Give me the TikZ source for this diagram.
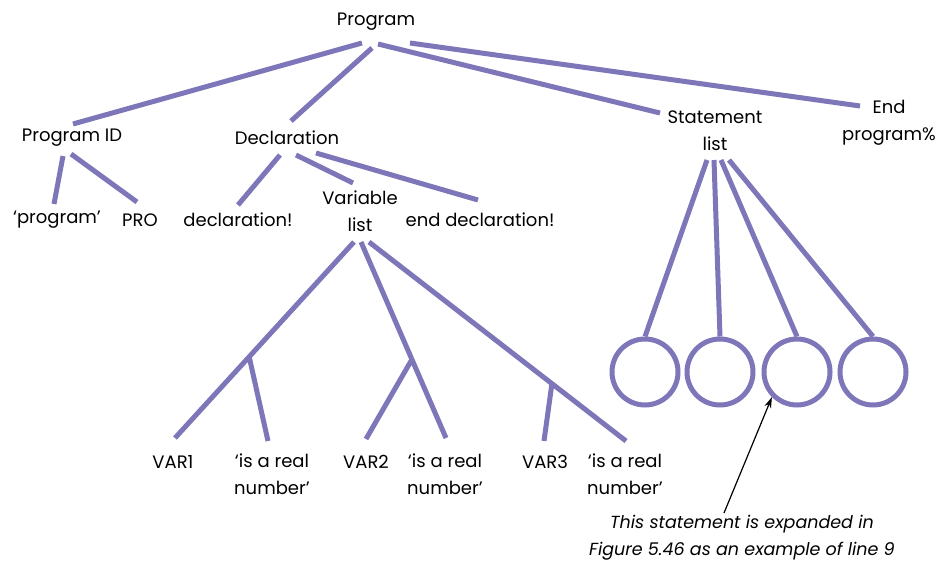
\documentclass[tikz,border=0pt]{standalone}
\usepackage{fontspec}
\setmainfont{Poppins}
\usetikzlibrary{arrows.meta}
\definecolor{branch}{RGB}{125,118,185}
\begin{document}
\begin{tikzpicture}[x=1pt,y=-1pt,
  lbl/.style={inner sep=0pt,align=center,font=\fontsize{18}{27}\selectfont},
  edge/.style={draw=branch,line width=5pt},
  leaf/.style={circle,draw=branch,line width=5pt,minimum size=66pt,inner sep=0pt},
  note/.style={inner sep=0pt,align=center,font=\fontsize{17.5}{27}\selectfont\itshape}]
\useasboundingbox (0,0) rectangle (937,564);

% labels
\node[lbl] (prog) at (376,22) {Program};
\node[lbl] (pid) at (72,138) {Program ID};
\node[lbl] (decl) at (287,138) {Declaration};
\node[lbl] (stl) at (715,131) {Statement\\list};
\node[lbl] (endp) at (889,123) {End\\program\%};
\node[lbl] (kw) at (57,220) {‘program’};
\node[lbl] (pro) at (140,220) {PRO};
\node[lbl] (dcl) at (238,220) {declaration!};
\node[lbl] (vl) at (360,211) {Variable\\list};
\node[lbl] (edcl) at (480,220) {end declaration!};
\node[lbl] (v1) at (173,462) {VAR1};
\node[lbl] (r1) at (272,474) {‘is a real\\number’};
\node[lbl] (v2) at (366,462) {VAR2};
\node[lbl] (r2) at (445,474) {‘is a real\\number’};
\node[lbl] (v3) at (545,462) {VAR3};
\node[lbl] (r3) at (625,474) {‘is a real\\number’};

% statement circles
\node[leaf] (s1) at (645,372) {};
\node[leaf] (s2) at (720,372) {};
\node[leaf] (s3) at (797,372) {};
\node[leaf] (s4) at (873,372) {};

% connector ends
\coordinate (p1) at (362,43);   \coordinate (p1e) at (73,124);
\coordinate (p2) at (372,48);   \coordinate (p2e) at (291,121);
\coordinate (p3) at (378,44);   \coordinate (p3e) at (660,113);
\coordinate (p4) at (410,43);   \coordinate (p4e) at (860,106);

\coordinate (i1) at (63,156);   \coordinate (i1e) at (54,204);
\coordinate (i2) at (71,154);   \coordinate (i2e) at (137,202);

\coordinate (d1) at (280,155);  \coordinate (d1e) at (238,205);
\coordinate (d2) at (296,155);  \coordinate (d2e) at (353,183);
\coordinate (d3) at (316,153);  \coordinate (d3e) at (478,200);

\coordinate (l1) at (354,242);  \coordinate (l1e) at (175,438);
\coordinate (j1) at (249,356);  \coordinate (j1e) at (268,441);
\coordinate (l2) at (361,242);  \coordinate (l2e) at (446,438);
\coordinate (j2) at (411,361);  \coordinate (j2e) at (366,439);
\coordinate (l3) at (369,242);  \coordinate (l3e) at (626,441);
\coordinate (j3) at (552,383);  \coordinate (j3e) at (544,441);

\coordinate (t1) at (707,160);
\coordinate (t2) at (714,160);
\coordinate (t3) at (721,160);
\coordinate (t4) at (729,160);

% tree branches
\path[edge] (p1) -- (p1e) (p2) -- (p2e) (p3) -- (p3e) (p4) -- (p4e);
\path[edge] (i1) -- (i1e) (i2) -- (i2e);
\path[edge] (d1) -- (d1e) (d2) -- (d2e) (d3) -- (d3e);
\path[edge] (l1) -- (l1e) (j1) -- (j1e);
\path[edge] (l2) -- (l2e) (j2) -- (j2e);
\path[edge] (l3) -- (l3e) (j3) -- (j3e);
\path[edge] (t1) -- (s1.north) (t2) -- (s2.north) (t3) -- (s3.north) (t4) -- (s4.north);

% annotation
\node[note] (cap) at (742,538) {This statement is expanded in\\Figure 5.46 as an example of line 9};
\coordinate (ct) at (724,513);
\draw[line width=1.2pt,-{Stealth[length=11pt,width=7pt]}] (ct) -- (s3.south west);
\end{tikzpicture}
\end{document}
